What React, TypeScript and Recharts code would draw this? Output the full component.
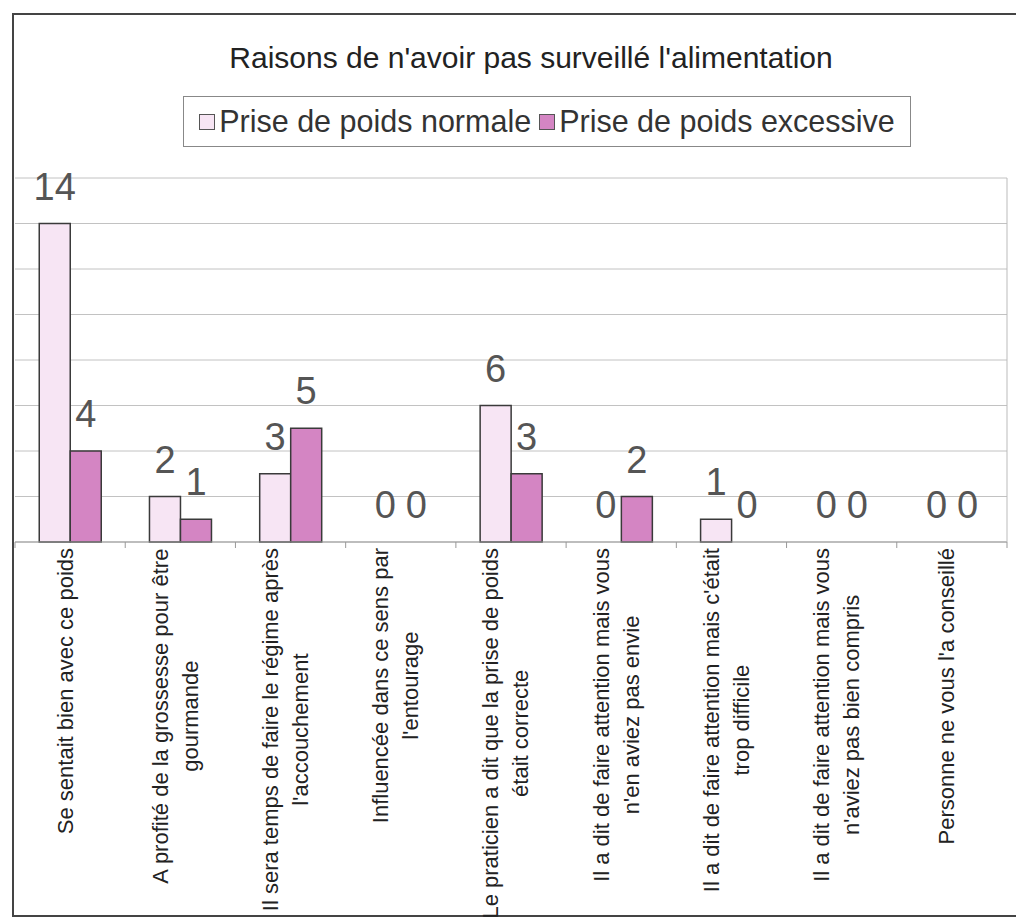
import { Bar, BarChart, CartesianGrid, LabelList, Legend, Rectangle, XAxis, YAxis } from "recharts";

// line breaks follow the wrapping in the original scan
const categories = [
  "Se sentait bien avec ce poids",
  "A profité de la grossesse pour être\ngourmande",
  "Il sera temps de faire le régime après\nl'accouchement",
  "Influencée dans ce sens par\nl'entourage",
  "Le praticien a dit que la prise de poids\nétait correcte",
  "Il a dit de faire attention mais vous\nn'en aviez pas envie",
  "Il a dit de faire attention mais c'était\ntrop difficile",
  "Il a dit de faire attention mais vous\nn'aviez pas bien compris",
  "Personne ne vous l'a conseillé",
];
const seriesNames = ["Prise de poids normale", "Prise de poids excessive"];
const normalValues = [14, 2, 3, 0, 6, 0, 1, 0, 0];
const excessiveValues = [4, 1, 5, 0, 3, 2, 0, 0, 0];
const yTicks = [0, 2, 4, 6, 8, 10, 12, 14, 16];

const FONT = '"Liberation Sans", Arial, Helvetica, sans-serif';
const FILL_NORMAL = "#f7e5f4";
const FILL_EXCESS = "#d485c3";
const BAR_STROKE = "#3a3a3a";

const W = 1017;
const H = 919;
const MARGIN = { top: 178, right: 9, bottom: 0, left: 14 };
const LABEL_FS = 22;

const data = categories.map((cat, i) => ({
  cat,
  normal: normalValues[i],
  excessive: excessiveValues[i],
}));

let measureCtx: CanvasRenderingContext2D | null = null;
function textWidth(s: string): number {
  if (!measureCtx) measureCtx = document.createElement("canvas").getContext("2d");
  if (!measureCtx) return s.length * LABEL_FS * 0.5;
  measureCtx.font = `${LABEL_FS}px ${FONT}`;
  return measureCtx.measureText(s).width;
}

function CategoryTick(props: any) {
  const { x, y, payload, index } = props;
  const bandHalf =
    payload && payload.offset > 0
      ? payload.offset
      : (W - MARGIN.left - MARGIN.right) / categories.length / 2;
  const lines = String(payload.value).split("\n");
  const maxW = Math.max(...lines.map(textWidth));
  const cy = y + 6 + maxW / 2;
  return (
    <g>
      <line x1={x - bandHalf} x2={x - bandHalf} y1={y} y2={y + 6} stroke="#999" />
      {index === categories.length - 1 && (
        <line x1={x + bandHalf} x2={x + bandHalf} y1={y} y2={y + 6} stroke="#999" />
      )}
      {lines.map((ln, i) => {
        const lx = x - 5 + (i - (lines.length - 1) / 2) * 30;
        return (
          <text
            key={i}
            x={lx}
            y={cy}
            transform={`rotate(-90 ${lx} ${cy})`}
            textAnchor="middle"
            dominantBaseline="central"
            fontSize={LABEL_FS}
            fontFamily={FONT}
            fill="#222"
          >
            {ln}
          </text>
        );
      })}
    </g>
  );
}

const EmptyTick = () => <g />;

function ValueLabel(props: any) {
  const { x, y, width, height, value } = props;
  // zero bars carry a hairline height so that they get a label; anchor on the baseline
  const top = Number(value) === 0 ? Number(y) + Number(height) : Number(y);
  return (
    <text
      x={Number(x) + Number(width) / 2}
      y={top - 24}
      textAnchor="middle"
      fontSize={38}
      fontFamily={FONT}
      fill="#555"
    >
      {value}
    </text>
  );
}

function BarShape(props: any) {
  if (!props.value) return <g />;
  return <Rectangle {...props} />;
}

const zeroMin = (v: any) => (Number(v) === 0 ? 0.5 : 0);

function BoxLegend(props: any) {
  const items = [...(props.payload || [])].sort(
    (a: any, b: any) => seriesNames.indexOf(a.value) - seriesNames.indexOf(b.value)
  );
  return (
    <div
      style={{
        boxSizing: "border-box",
        width: 728,
        height: 51,
        border: "1px solid #888",
        background: "#fff",
        display: "flex",
        alignItems: "center",
        justifyContent: "center",
        fontFamily: FONT,
        fontSize: 30.5,
        color: "#333",
        whiteSpace: "nowrap",
      }}
    >
      {items.map((it: any, i: number) => (
        <span
          key={i}
          style={{ display: "flex", alignItems: "center", marginLeft: i ? 8 : 0 }}
        >
          <span
            style={{
              display: "inline-block",
              width: 14,
              height: 14,
              border: "1px solid #555",
              background: it.color,
              marginRight: 4,
            }}
          />
          {it.value}
        </span>
      ))}
    </div>
  );
}

export default function App() {
  return (
    <div style={{ position: "absolute", left: 0, top: 0, width: W, height: H, overflow: "hidden", background: "#fff" }}>
      <div
        style={{
          position: "absolute",
          left: 12,
          top: 13,
          width: 1002,
          height: 900,
          borderLeft: "2px solid #444",
          borderTop: "2px solid #444",
          borderBottom: "2px solid #444",
        }}
      />
      <div
        style={{
          position: "absolute",
          left: 0,
          top: 43,
          width: 1062,
          textAlign: "center",
          fontFamily: FONT,
          fontSize: 30,
          lineHeight: 1,
          color: "#222",
        }}
      >
        Raisons de n'avoir pas surveillé l'alimentation
      </div>
      <div style={{ position: "absolute", left: 0, top: 0 }}>
        <BarChart
          width={W}
          height={H}
          data={data}
          margin={MARGIN}
          barCategoryGap="22%"
          barGap={0}
        >
          <CartesianGrid
            horizontal
            vertical={false}
            stroke="#c2c2c2"
            horizontalValues={yTicks}
          />
          <XAxis
            dataKey="cat"
            interval={0}
            height={377}
            tickSize={0}
            tickMargin={0}
            tickLine={false}
            axisLine={{ stroke: "#999" }}
            tick={<CategoryTick />}
          />
          <YAxis
            domain={[0, 16]}
            ticks={yTicks}
            interval={0}
            width={1}
            tick={<EmptyTick />}
            tickLine={false}
            axisLine={false}
          />
          <YAxis
            yAxisId="right"
            orientation="right"
            domain={[0, 16]}
            ticks={yTicks}
            interval={0}
            width={1}
            tick={<EmptyTick />}
            tickLine={false}
            axisLine={{ stroke: "#bbb" }}
          />
          <Legend
            layout="horizontal"
            verticalAlign="middle"
            align="center"
            wrapperStyle={{ top: 96, left: 183, width: 728, height: 51 }}
            content={<BoxLegend />}
          />
          <Bar
            dataKey="normal"
            name={seriesNames[0]}
            fill={FILL_NORMAL}
            stroke={BAR_STROKE}
            strokeWidth={1.5}
            minPointSize={zeroMin}
            shape={<BarShape />}
            isAnimationActive={false}
          >
            <LabelList dataKey="normal" content={<ValueLabel />} />
          </Bar>
          <Bar
            dataKey="excessive"
            name={seriesNames[1]}
            fill={FILL_EXCESS}
            stroke={BAR_STROKE}
            strokeWidth={1.5}
            minPointSize={zeroMin}
            shape={<BarShape />}
            isAnimationActive={false}
          >
            <LabelList dataKey="excessive" content={<ValueLabel />} />
          </Bar>
        </BarChart>
      </div>
    </div>
  );
}
